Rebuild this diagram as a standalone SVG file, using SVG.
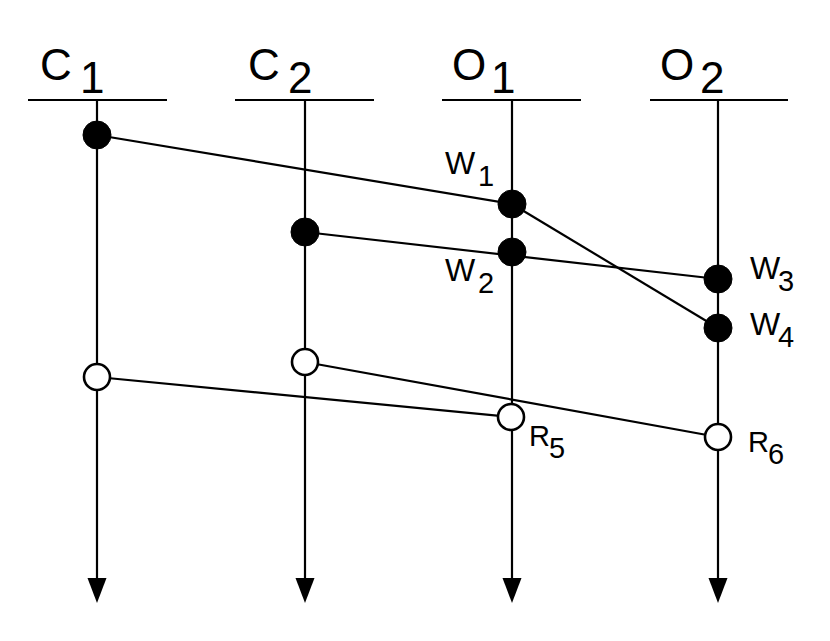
<svg xmlns="http://www.w3.org/2000/svg" width="830" height="641" viewBox="0 0 830 641">
<style>
.ln{stroke:#000;stroke-width:2.2;fill:none}
.hd{font-family:"Liberation Sans",Arial,sans-serif;font-size:44px;fill:#000}
.lb{font-family:"Liberation Sans",Arial,sans-serif;font-size:29px;fill:#000}
.w{font-size:32px}
.f{fill:#000;stroke:#000;stroke-width:1}
.o{fill:#fff;stroke:#000;stroke-width:2.6}
</style>
<defs>
<polygon id="ah" points="-9.5,-25 9.5,-25 0,0" fill="#000"/>
</defs>
<rect width="830" height="641" fill="#fff"/>
<g id="timelines">
<g id="C1-line"><line class="ln" x1="28" y1="100" x2="167" y2="100"/><line class="ln" x1="97" y1="100" x2="97" y2="582"/><use href="#ah" x="97" y="603"/><text class="hd" x="40" y="80">C<tspan x="80" y="93">1</tspan></text></g>
<g id="C2-line"><line class="ln" x1="235" y1="100" x2="374" y2="100"/><line class="ln" x1="305" y1="100" x2="305" y2="582"/><use href="#ah" x="305" y="603"/><text class="hd" x="248" y="80">C<tspan x="288" y="93">2</tspan></text></g>
<g id="O1-line"><line class="ln" x1="442" y1="100" x2="581" y2="100"/><line class="ln" x1="512" y1="100" x2="512" y2="582"/><use href="#ah" x="512" y="603"/><text class="hd" x="452" y="80">O<tspan x="491" y="93">1</tspan></text></g>
<g id="O2-line"><line class="ln" x1="650" y1="100" x2="788" y2="100"/><line class="ln" x1="718" y1="100" x2="718" y2="582"/><use href="#ah" x="718" y="603"/><text class="hd" x="660" y="80">O<tspan x="700" y="93">2</tspan></text></g>
</g>
<g id="connectors">
<line class="ln" x1="97" y1="135" x2="512" y2="204"/>
<line class="ln" x1="305" y1="232" x2="718" y2="279"/>
<line class="ln" x1="512" y1="204" x2="718" y2="328"/>
<line class="ln" x1="97" y1="377" x2="512" y2="417"/>
<line class="ln" x1="305" y1="362" x2="718" y2="437"/>
</g>
<g id="n-c1w"><circle class="f" cx="97" cy="135" r="14"/></g>
<g id="n-w1"><circle class="f" cx="512" cy="204" r="14"/><text class="lb" x="445" y="174"><tspan class="w">W</tspan><tspan x="478" y="186">1</tspan></text></g>
<g id="n-c2w"><circle class="f" cx="305" cy="232" r="14"/></g>
<g id="n-w2"><circle class="f" cx="512" cy="252" r="14"/><text class="lb" x="445" y="281"><tspan class="w">W</tspan><tspan x="478" y="293">2</tspan></text></g>
<g id="n-w3"><circle class="f" cx="718" cy="279" r="14"/><text class="lb" x="750" y="279"><tspan class="w">W</tspan><tspan x="778" y="291">3</tspan></text></g>
<g id="n-w4"><circle class="f" cx="718" cy="328" r="14"/><text class="lb" x="750" y="335"><tspan class="w">W</tspan><tspan x="778" y="347">4</tspan></text></g>
<g id="n-c1r"><circle class="o" cx="97" cy="377" r="13"/></g>
<g id="n-c2r"><circle class="o" cx="305" cy="362" r="13"/></g>
<g id="n-r5"><circle class="o" cx="511" cy="417" r="13"/><text class="lb" x="529" y="446">R<tspan x="549" y="458">5</tspan></text></g>
<g id="n-r6"><circle class="o" cx="718" cy="437" r="13"/><text class="lb" x="748" y="452">R<tspan x="768" y="464">6</tspan></text></g>
</svg>
